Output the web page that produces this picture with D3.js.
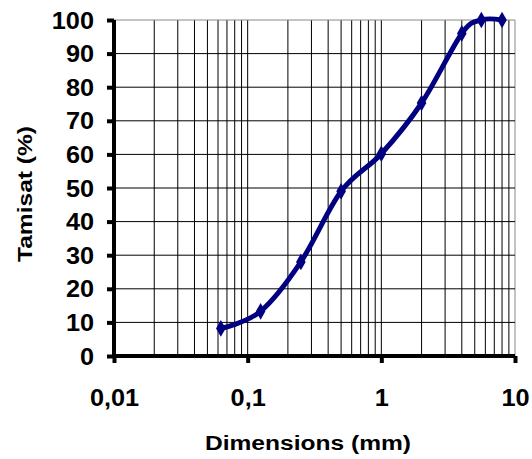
<!DOCTYPE html>
<html><head><meta charset="utf-8">
<script src="https://cdn.jsdelivr.net/npm/d3@7"></script>
<style>body{margin:0;background:#fff}svg{display:block}text{font-family:"Liberation Sans",Arial,sans-serif;font-weight:bold;fill:#000}</style>
</head><body><svg id="c" width="532" height="459"></svg>
<script>
const sizes = [0.063, 0.125, 0.25, 0.5, 1, 2, 4, 5.6, 8];
const passing = [8.2, 13.3, 28, 49, 60.2, 75.3, 96, 100, 100];
const xTicks = [0.01, 0.1, 1, 10];
const xTickLabels = ["0,01", "0,1", "1", "10"];
const yTicks = [0, 10, 20, 30, 40, 50, 60, 70, 80, 90, 100];
const xTitle = "Dimensions (mm)";
const yTitle = "Tamisat (%)";

const svg = d3.select("#c");
const x = d3.scaleLog().domain([0.01, 10]).range([114, 515]);
const y = d3.scaleLinear().domain([0, 100]).range([356, 20]);

// vertical grid
const minor = [];
[0.01, 0.1, 1].forEach(d => { for (let k = 2; k <= 10; k++) minor.push(d * k); });
svg.append("g").selectAll("line").data(minor).join("line")
  .attr("x1", d => x(d)).attr("x2", d => x(d)).attr("y1", y(100)).attr("y2", y(0))
  .attr("stroke", d => Math.abs(d - 10) < 1e-9 ? "#888" : "#000").attr("stroke-width", 1);
// horizontal grid
svg.append("g").selectAll("line").data(yTicks.slice(1)).join("line")
  .attr("x1", x(0.01)).attr("x2", x(10)).attr("y1", d => y(d)).attr("y2", d => y(d))
  .attr("stroke", d => d === 100 ? "#888" : "#000").attr("stroke-width", 1);

// axes
const yAxis = d3.axisLeft(y).tickValues(yTicks).tickSize(7).tickFormat("");
const gy = svg.append("g").attr("transform", `translate(${x(0.01)},0)`).call(yAxis);
gy.select(".domain").attr("stroke", "#000").attr("stroke-width", 4).attr("d", `M0,${y(100)}V${y(0)+2}`);
gy.selectAll(".tick line").attr("stroke", "#000").attr("stroke-width", 4);
gy.selectAll(".tick").append("text").attr("transform", "translate(-20,8) scale(1.1,1)")
  .attr("text-anchor", "end").attr("font-size", 23).text(d => d);

const xAxis = d3.axisBottom(x).tickValues(xTicks).tickSize(7).tickFormat("");
const gx = svg.append("g").attr("transform", `translate(0,${y(0)})`).call(xAxis);
gx.select(".domain").attr("stroke", "#000").attr("stroke-width", 4).attr("d", `M${x(0.01)-2},0H${x(10)}`);
gx.selectAll(".tick line").attr("stroke", "#000").attr("stroke-width", 4);
gx.selectAll(".tick").append("text").attr("transform", "translate(0,50) scale(1.1,1)")
  .attr("text-anchor", "middle").attr("font-size", 23).text((d, i) => xTickLabels[i]);

// titles
svg.append("text").attr("transform", "translate(308,450) scale(1.17,1)").attr("text-anchor", "middle").attr("font-size", 21).text(xTitle);
svg.append("text").attr("transform", "translate(32,194) rotate(-90) scale(1.17,1)").attr("text-anchor", "middle").attr("font-size", 21).text(yTitle);

// data
const pts = sizes.map((s, i) => [s, passing[i]]);
svg.append("path").datum(pts)
  .attr("d", d3.line().x(d => x(d[0])).y(d => y(d[1])).curve(d3.curveCardinal.tension(0)))
  .attr("fill", "none").attr("stroke", "#000080").attr("stroke-width", 5).attr("stroke-linejoin", "round");
svg.append("g").selectAll("path").data(pts).join("path")
  .attr("transform", d => `translate(${x(d[0])},${y(d[1])})`)
  .attr("d", d3.symbol().type(d3.symbolDiamond).size(80))
  .attr("fill", "#000080");
</script></body></html>
